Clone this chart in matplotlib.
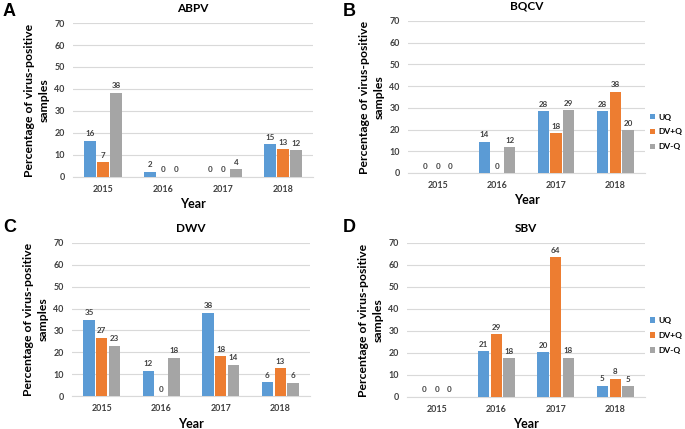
import matplotlib
matplotlib.use("Agg")
import matplotlib.pyplot as plt
import numpy as np

years = ["2015", "2016", "2017", "2018"]
groups = ["UQ", "DV+Q", "DV-Q"]
colors = ["#5B9BD5", "#ED7D31", "#A5A5A5"]

# percentage of virus-positive samples per group (UQ, DV+Q, DV-Q)
abpv_uq = [16.4, 2.4, 0, 14.8]
abpv_dvq = [6.6, 0, 0, 12.6]
abpv_dvnq = [38.4, 0, 3.6, 12.1]

bqcv_uq = [0, 14.3, 28.4, 28.4]
bqcv_dvq = [0, 0, 18.2, 37.5]
bqcv_dvnq = [0, 11.8, 28.9, 19.7]

dwv_uq = [34.8, 11.6, 38.1, 6.3]
dwv_dvq = [26.7, 0, 18.2, 12.6]
dwv_dvnq = [23.1, 17.6, 14.3, 6.1]

sbv_uq = [0, 20.7, 20.4, 5.1]
sbv_dvq = [0, 28.6, 63.6, 8.3]
sbv_dvnq = [0, 17.6, 17.9, 4.8]

FONT = "Lato"
W, H = 685, 429

fig = plt.figure(figsize=(W / 100, H / 100), dpi=100)


def px_axes(left, right, top, bottom):
    return fig.add_axes([left / W, 1 - bottom / H, (right - left) / W, (bottom - top) / H])


def draw_panel(ax, title, series, legend_y=None):
    x = np.arange(len(years))
    width = 0.19
    offsets = [-0.215, 0, 0.215]
    for vals, off, col, name in zip(series, offsets, colors, groups):
        bars = ax.bar(x + off, vals, width, color=col, label=name, zorder=3)
        for b, v in zip(bars, vals):
            ax.text(b.get_x() + b.get_width() / 2, v + 1.6, f"{v:.0f}",
                    ha="center", va="bottom", fontsize=5.8, fontweight="bold",
                    family=FONT, color="#404040")
    ax.set_xlim(-0.5, 3.5)
    ax.set_ylim(0, 70)
    ax.set_yticks(range(0, 71, 10))
    ax.set_xticks(x)
    ax.set_xticklabels(years)
    ax.grid(axis="y", color="#D9D9D9", linewidth=0.8, zorder=0)
    for s in ["top", "right", "left"]:
        ax.spines[s].set_visible(False)
    ax.spines["bottom"].set_color("#D9D9D9")
    ax.tick_params(length=0, labelsize=6.4, pad=6, colors="#404040")
    for lab in ax.get_xticklabels() + ax.get_yticklabels():
        lab.set_fontweight("bold")
        lab.set_family(FONT)
    ax.set_title(title, fontsize=8.5, fontweight="bold", family=FONT, pad=8)
    ax.set_xlabel("Year", fontsize=9, fontweight="bold", family=FONT, labelpad=3)
    ax.set_ylabel("Percentage of virus-positive\nsamples", fontsize=8.8,
                  fontweight="bold", family=FONT, labelpad=3, linespacing=1.4)
    if legend_y is not None:
        ax.legend(loc="center left", bbox_to_anchor=(1.02, legend_y), frameon=False,
                  prop={"family": FONT, "weight": "bold", "size": 6},
                  handlelength=0.6, handleheight=0.6, handletextpad=0.4,
                  labelspacing=0.95, borderaxespad=0, borderpad=0)


ax_a = px_axes(73, 313, 23, 177)
ax_b = px_axes(408, 645, 21, 173)
ax_c = px_axes(72, 310, 243, 396)
ax_d = px_axes(407, 645, 243, 397)

draw_panel(ax_a, "ABPV", [abpv_uq, abpv_dvq, abpv_dvnq])
draw_panel(ax_b, "BQCV", [bqcv_uq, bqcv_dvq, bqcv_dvnq], legend_y=0.27)
draw_panel(ax_c, "DWV", [dwv_uq, dwv_dvq, dwv_dvnq])
draw_panel(ax_d, "SBV", [sbv_uq, sbv_dvq, sbv_dvnq], legend_y=0.40)

for letter, (lx, ly) in zip("ABCD", [(3, 11), (343, 11), (3, 228), (343, 228)]):
    fig.text(lx / W, 1 - ly / H, letter, fontsize=13, fontweight="bold",
             family="Liberation Sans", va="center", ha="left")

fig.savefig("out.png", dpi=100)
